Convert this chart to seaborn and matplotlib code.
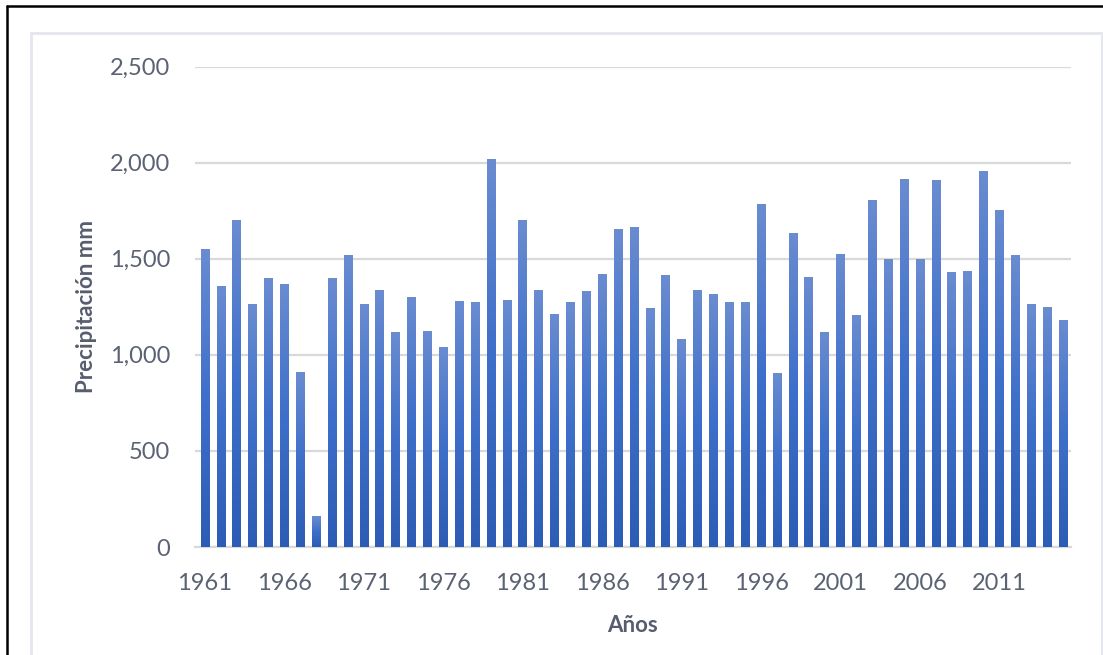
import numpy as np
import pandas as pd
import matplotlib.pyplot as plt
import seaborn as sns
from matplotlib.colors import LinearSegmentedColormap
from matplotlib.lines import Line2D

# Annual precipitation (mm)
years = list(range(1961, 2016))
precip = [1553, 1356, 1702, 1264, 1401, 1370, 909, 159, 1399, 1517,
          1264, 1339, 1119, 1302, 1126, 1042, 1280, 1273, 2021, 1287,
          1702, 1339, 1214, 1273, 1332, 1422, 1652, 1666, 1243, 1413,
          1081, 1339, 1318, 1273, 1273, 1785, 907, 1636, 1406, 1117,
          1524, 1207, 1808, 1496, 1917, 1496, 1910, 1429, 1435, 1955,
          1754, 1517, 1264, 1250, 1183]
tick_years = list(range(1961, 2012, 5))

df = pd.DataFrame({'year': years, 'value': precip})

sns.set_style("white")
plt.rcParams['font.family'] = ['Lato', 'DejaVu Sans']

fig = plt.figure(figsize=(11.03, 6.55), dpi=100)
ax = fig.add_axes([195 / 1103, 1 - 547 / 655, (1071 - 195) / 1103, (547 - 66.5) / 655])

sns.barplot(data=df, x='year', y='value', color='#4472C4', width=0.55,
            ax=ax, zorder=3)

# vertical gradient fill on each bar, like the Excel original
cmap = LinearSegmentedColormap.from_list('bar', ['#2C5CB5', '#3E6FCA', '#6A8CD1'])
grad = np.linspace(0, 1, 256).reshape(-1, 1)
for bar in ax.patches:
    x0, y0 = bar.get_x(), bar.get_y()
    w, h = bar.get_width(), bar.get_height()
    bar.set_facecolor('none')
    bar.set_edgecolor('none')
    im = ax.imshow(grad, cmap=cmap, origin='lower', aspect='auto',
                   extent=[x0, x0 + w, y0, y0 + h], zorder=3)
    im.set_clip_path(bar)

ax.set_xlim(-0.63, len(years) - 0.5)
ax.set_ylim(0, 2500)
ax.set_yticks(range(0, 2501, 500))
ax.set_yticklabels([f'{v:,}' for v in range(0, 2501, 500)])
ax.set_xticks([years.index(y) for y in tick_years])
ax.set_xticklabels([str(y) for y in tick_years])

ax.grid(axis='y', color='#D9D9D9', linewidth=1.6, zorder=0)
ax.grid(axis='x', visible=False)
for s in ['top', 'right', 'left']:
    ax.spines[s].set_visible(False)
ax.spines['bottom'].set_color('#D9D9D9')
ax.spines['bottom'].set_linewidth(1.6)

ax.tick_params(axis='y', length=0, pad=18, labelsize=17, labelcolor='#5A6273')
ax.tick_params(axis='x', length=0, pad=19, labelsize=17, labelcolor='#5A6273')

ax.set_xlabel('Años', fontsize=16, fontweight='bold', color='#555D6E', labelpad=15)
ax.set_ylabel('Precipitación mm', fontsize=16, fontweight='bold', color='#555D6E', labelpad=9)

# chart area border (light) and outer black frame
W, H = 1103, 655
light = '#E3E6EC'
fig.add_artist(Line2D([31 / W, 1102 / W], [1 - 33 / H, 1 - 33 / H], color=light, lw=2))
fig.add_artist(Line2D([31 / W, 31 / W], [0, 1 - 33 / H], color=light, lw=2))
fig.add_artist(Line2D([1102 / W, 1102 / W], [0, 1 - 33 / H], color=light, lw=2))
fig.add_artist(Line2D([7 / W, 1], [1 - 6 / H, 1 - 6 / H], color='black', lw=1.8))
fig.add_artist(Line2D([7 / W, 7 / W], [0, 1 - 6 / H], color='black', lw=1.8))

fig.savefig('out.png', dpi=100)
